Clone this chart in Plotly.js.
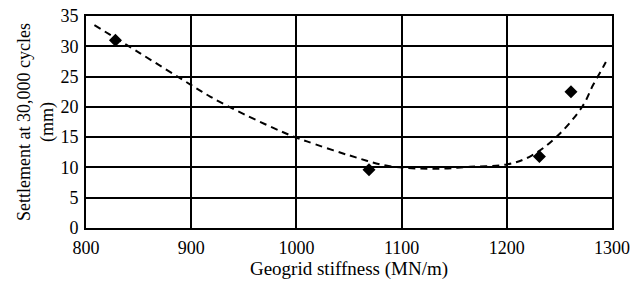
<!DOCTYPE html>
<html><head><meta charset="utf-8">
<script src="https://cdn.plot.ly/plotly-3.0.1.min.js"></script>
<style>html,body{margin:0;padding:0;background:#fff}</style>
</head><body>
<div id="chart" style="width:630px;height:281px"></div>
<script>
// Measured data points
var stiffness = [828, 1069, 1231, 1261];
var settlement = [31.0, 9.6, 11.8, 22.5];
// Trend curve
var trendX = [808, 850, 900, 918, 950, 997, 1010, 1050, 1089, 1136, 1165, 1200, 1222, 1247, 1272, 1282, 1292, 1296];
var trendY = [33.5, 29.0, 23.6, 21.7, 18.8, 15.1, 14.3, 12.0, 10.2, 9.8, 10.1, 10.5, 11.8, 15.0, 20.1, 23.6, 26.7, 28.0];
var xTicks = [800, 900, 1000, 1100, 1200, 1300];
var yTicks = [0, 5, 10, 15, 20, 25, 30, 35];

var font = {family: '"Liberation Serif", "Times New Roman", serif', color: '#000'};
function f(s) { return Object.assign({size: s}, font); }
Plotly.newPlot('chart', [
  {x: trendX, y: trendY, mode: 'lines', line: {color: '#000', width: 2, dash: '7px,5px', shape: 'spline', smoothing: 1}, hoverinfo: 'skip'},
  {x: stiffness, y: settlement, mode: 'markers', marker: {symbol: 'diamond', size: 10, color: '#000'}}
], {
  width: 630, height: 281,
  margin: {l: 86, r: 18, t: 16, b: 53},
  showlegend: false,
  paper_bgcolor: '#fff', plot_bgcolor: '#fff',
  font: f(18),
  xaxis: {range: [800, 1300], tickvals: xTicks, ticks: 'outside', ticklen: 2, tickcolor: 'rgba(0,0,0,0)', showgrid: true, gridcolor: '#000', gridwidth: 2,
    showline: true, linecolor: '#000', linewidth: 2, mirror: true, zeroline: false,
    tickfont: f(18),
    title: {text: 'Geogrid stiffness (MN/m)', font: f(19), standoff: 4}},
  yaxis: {range: [0, 35], tickvals: yTicks, ticks: 'outside', ticklen: 2, tickcolor: 'rgba(0,0,0,0)', showgrid: true, gridcolor: '#000', gridwidth: 2,
    showline: true, linecolor: '#000', linewidth: 2, mirror: true, zeroline: false,
    tickfont: f(18),
    title: {text: 'Settlement at 30,000 cycles<br>(mm)', font: f(18), standoff: 2}}
}, {staticPlot: true});
</script>
</body></html>
